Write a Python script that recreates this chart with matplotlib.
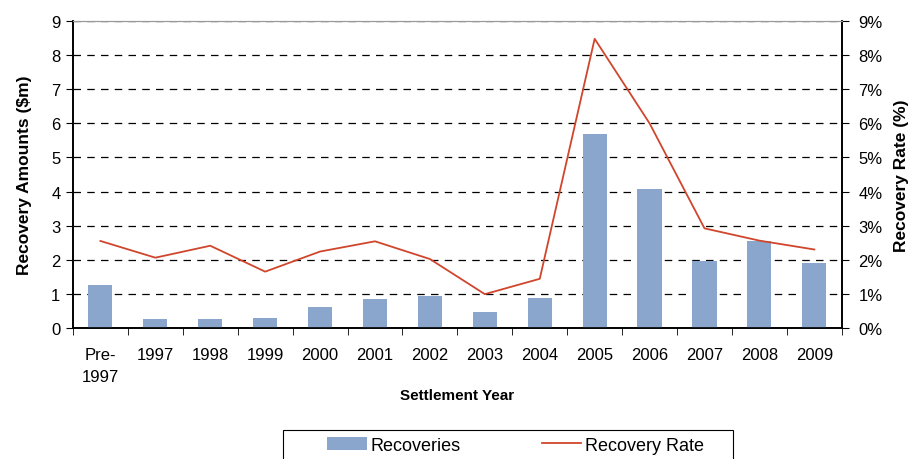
import numpy as np
import matplotlib.pyplot as plt
from matplotlib.patches import Rectangle
from matplotlib.ticker import FixedLocator, PercentFormatter

plt.rcParams['font.family'] = ['Liberation Sans', 'DejaVu Sans']

# data
years = ['Pre-\n1997', '1997', '1998', '1999', '2000', '2001', '2002', '2003',
         '2004', '2005', '2006', '2007', '2008', '2009']
recoveries = [1.26, 0.26, 0.26, 0.29, 0.62, 0.85, 0.94, 0.47, 0.88, 5.69,
              4.08, 1.96, 2.55, 1.91]
recovery_rate = [2.55, 2.06, 2.41, 1.65, 2.24, 2.54, 2.02, 0.99, 1.44, 8.48,
                 6.0, 2.92, 2.56, 2.30]

x = np.arange(len(years))

fig = plt.figure(figsize=(9.12, 4.6), dpi=100)
ax = fig.add_axes([0.080, 0.285, 0.843, 0.667])
ax2 = ax.twinx()

bars = ax.bar(x, recoveries, width=0.44, color='#8AA6CC', zorder=3,
              label='Recoveries')
line, = ax2.plot(x, recovery_rate, color='#D0462C', lw=1.3,
                 label='Recovery Rate')

ax.set_xlim(-0.5, len(years) - 0.5)
ax.set_ylim(0, 9)
ax2.set_ylim(0, 9)
ax.set_yticks(range(10))
ax2.set_yticks(range(10))
ax2.yaxis.set_major_formatter(PercentFormatter(decimals=0))

ax.yaxis.grid(True, linestyle=(0, (6, 5)), color='black', lw=0.9)
ax.set_axisbelow(True)

# ticks between categories
ax.set_xticks(x)
ax.set_xticklabels(years, fontsize=12, linespacing=1.55, va='top')
ax.tick_params(axis='x', length=0, pad=14)
ax.xaxis.set_minor_locator(FixedLocator(np.arange(-0.5, len(years), 1)))
ax.tick_params(axis='x', which='minor', length=5, direction='out')

ax.tick_params(axis='y', labelsize=12, length=5, direction='out', pad=4)
ax2.tick_params(axis='y', labelsize=12, length=5, direction='out', pad=7)

for a in (ax, ax2):
    a.spines['top'].set_color('#999999')
    a.spines['left'].set_linewidth(1.2)
    a.spines['right'].set_linewidth(1.2)
    a.spines['bottom'].set_linewidth(1.2)

ax.set_ylabel('Recovery Amounts ($m)', fontsize=12.5, fontweight='bold',
              labelpad=14)
ax2.set_ylabel('Recovery Rate (%)', fontsize=12.5, fontweight='bold',
               labelpad=8)
ax.set_xlabel('Settlement Year', fontsize=11, fontweight='bold', labelpad=3)

# legend: contents without frame, plus a wide box that runs off the bottom
leg = fig.legend([bars, line], ['Recoveries', 'Recovery Rate'], ncol=2,
                 loc='center left', bbox_to_anchor=(318 / 912, 0.030),
                 fontsize=13, frameon=False, borderpad=0,
                 columnspacing=4.5, handlelength=2.2, handletextpad=0.2)
fig.patches.append(Rectangle((283 / 912, -0.02), 450 / 912, 29 / 460 + 0.02,
                             transform=fig.transFigure, fill=False,
                             edgecolor='black', lw=0.8))

plt.savefig('out.png', dpi=100)
